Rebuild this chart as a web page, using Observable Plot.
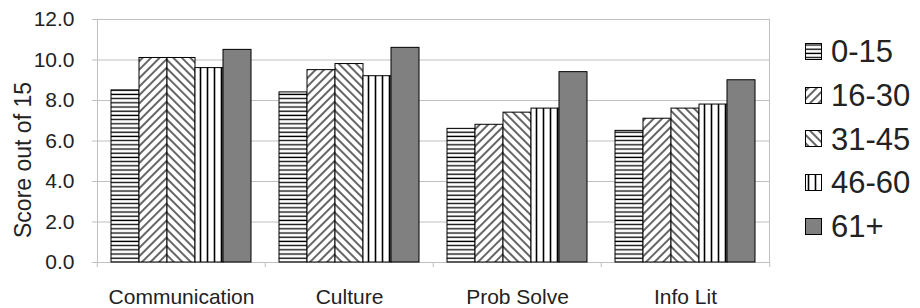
<!DOCTYPE html>
<html>
<head>
<meta charset="utf-8">
<script src="https://cdn.jsdelivr.net/npm/d3@7"></script>
<script src="https://cdn.jsdelivr.net/npm/@observablehq/plot@0.6"></script>
<style>
  html, body { margin: 0; padding: 0; background: #fff; }
  #wrap { position: relative; width: 920px; height: 308px; font-family: "Liberation Sans", Arial, sans-serif; color: #222; }
  #ytitle { position: absolute; width: 240px; left: -97px; top: 148px; height: 24px; line-height: 24px; text-align: center; font-size: 23px; transform: rotate(-90deg); transform-origin: 50% 50%; }
  #legend { position: absolute; left: 805px; top: 30px; }
  .row { display: flex; align-items: center; height: 43.7px; }
  .row svg { display: block; margin-right: 8px; }
  .row span { font-size: 31px; line-height: 1; }
</style>
</head>
<body>
<div id="wrap">
  <div id="chart"></div>
  <div id="ytitle">Score out of 15</div>
  <div id="legend"></div>
</div>
<script>
const categories = ["Communication", "Culture", "Prob Solve", "Info Lit"];
const groups = ["0-15", "16-30", "31-45", "46-60", "61+"];
const v0_15  = [8.5, 8.4, 6.6, 6.5];
const v16_30 = [10.1, 9.5, 6.8, 7.1];
const v31_45 = [10.1, 9.8, 7.4, 7.6];
const v46_60 = [9.6, 9.2, 7.6, 7.8];
const v61    = [10.5, 10.6, 9.4, 9.0];
const yTicks = [0, 2, 4, 6, 8, 10, 12];

const series = [v0_15, v16_30, v31_45, v46_60, v61];
const data = [];
categories.forEach((c, ci) => groups.forEach((g, gi) => data.push({category: c, group: g, value: series[gi][ci]})));

const W = 920, H = 308, ML = 96, MR = 150, MT = 19, MB = 46;
const bw = (W - ML - MR) / categories.length;
const patUrls = groups.map((g, i) => `url(#pat${i})`);
const grid = "#bfbfbf";

const chart = Plot.plot({
  width: W, height: H,
  marginLeft: ML, marginRight: MR, marginTop: MT, marginBottom: MB,
  style: {fontFamily: "Liberation Sans, Arial, sans-serif", background: "#fff", color: "#222"},
  fx: {domain: categories, padding: 0},
  x: {domain: groups, paddingInner: 0, paddingOuter: 0.47, axis: null},
  y: {domain: [0, 12]},
  color: {type: "ordinal", domain: groups, range: patUrls},
  marks: [
    Plot.gridY(yTicks, {stroke: grid, strokeOpacity: 1}),
    Plot.frame({anchor: "left", facetAnchor: "left", stroke: grid}),
    Plot.frame({anchor: "right", facetAnchor: "right", stroke: grid}),
    Plot.barY(data, {fx: "category", x: "group", y: "value", fill: "group", stroke: "#000", strokeWidth: 1}),
    Plot.axisY({ticks: yTicks, tickFormat: d3.format(".1f"), tickSize: 5, tickPadding: 18, stroke: grid, fill: "#222", fontSize: 21, label: null}),
    Plot.axisFx({anchor: "bottom", tickSize: 0, tickPadding: 27, fontSize: 21, fill: "#222", label: null}),
    Plot.axisFx({anchor: "bottom", tickSize: 5, tickFormat: () => "", dx: -bw / 2, stroke: grid, label: null}),
    Plot.axisFx({anchor: "bottom", ticks: [categories[categories.length - 1]], tickSize: 5, tickFormat: () => "", dx: bw / 2, stroke: grid, label: null})
  ]
});

// pattern definitions
const NS = "http://www.w3.org/2000/svg";
const defs = document.createElementNS(NS, "defs");
function mk(tag, attrs, parent) {
  const e = document.createElementNS(NS, tag);
  for (const k in attrs) e.setAttribute(k, attrs[k]);
  if (parent) parent.appendChild(e);
  return e;
}
// 0-15 horizontal
let p = mk("pattern", {id: "pat0", patternUnits: "userSpaceOnUse", width: 6, height: 4.2}, defs);
mk("rect", {width: 6, height: 4.2, fill: "#fff"}, p);
mk("line", {x1: 0, x2: 6, y1: 2, y2: 2, stroke: "#000", "stroke-width": 1.3}, p);
// 16-30 forward diagonal
p = mk("pattern", {id: "pat1", patternUnits: "userSpaceOnUse", width: 6, height: 6, patternTransform: "rotate(45)"}, defs);
mk("rect", {width: 6, height: 6, fill: "#fff"}, p);
mk("line", {x1: 3, x2: 3, y1: 0, y2: 6, stroke: "#000", "stroke-width": 1.2}, p);
// 31-45 backward diagonal
p = mk("pattern", {id: "pat2", patternUnits: "userSpaceOnUse", width: 6, height: 6, patternTransform: "rotate(-45)"}, defs);
mk("rect", {width: 6, height: 6, fill: "#fff"}, p);
mk("line", {x1: 3, x2: 3, y1: 0, y2: 6, stroke: "#000", "stroke-width": 1.2}, p);
// 46-60 vertical
p = mk("pattern", {id: "pat3", patternUnits: "userSpaceOnUse", width: 7, height: 6}, defs);
mk("rect", {width: 7, height: 6, fill: "#fff"}, p);
mk("line", {x1: 3.5, x2: 3.5, y1: 0, y2: 6, stroke: "#000", "stroke-width": 1.6}, p);
// 61+ solid
p = mk("pattern", {id: "pat4", patternUnits: "userSpaceOnUse", width: 4, height: 4}, defs);
mk("rect", {width: 4, height: 4, fill: "#808080"}, p);
chart.insertBefore(defs, chart.firstChild);

document.getElementById("chart").appendChild(chart);

// legend
const legend = document.getElementById("legend");
groups.forEach((g, i) => {
  const row = document.createElement("div");
  row.className = "row";
  const s = document.createElementNS(NS, "svg");
  s.setAttribute("width", 18); s.setAttribute("height", 18);
  mk("rect", {x: 0.5, y: 0.5, width: 16, height: 16, fill: patUrls[i], stroke: "#000", "stroke-width": 1}, s);
  row.appendChild(s);
  const t = document.createElement("span");
  t.textContent = g;
  row.appendChild(t);
  legend.appendChild(row);
});
</script>
</body>
</html>
